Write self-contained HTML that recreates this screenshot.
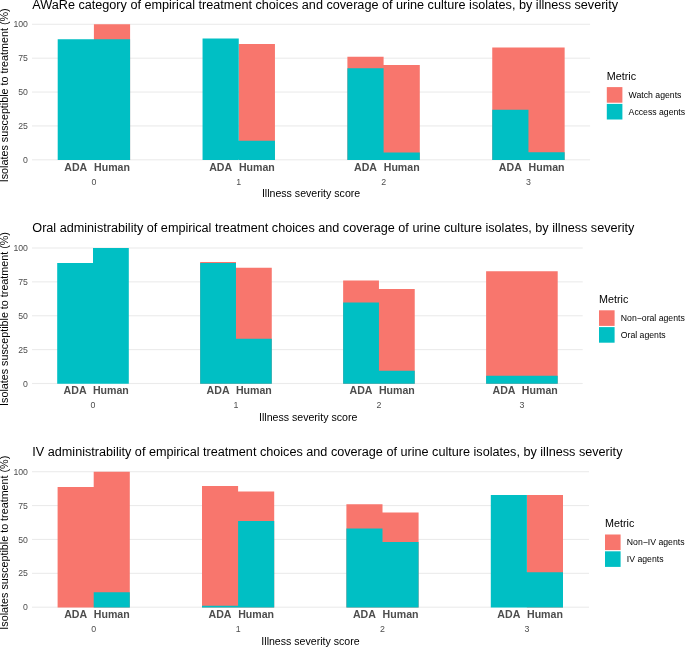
<!DOCTYPE html>
<html><head><meta charset="utf-8"><style>
html,body{margin:0;padding:0;background:#fff;width:685px;height:647px;overflow:hidden}
svg{display:block;will-change:transform}
text{font-family:"Liberation Sans", sans-serif}
</style></head><body>
<svg width="685" height="647" viewBox="0 0 685 647">
<rect width="685" height="647" fill="#fff"/>
<text x="32.3" y="8.70" font-size="12.65" fill="#000">AWaRe category of empirical treatment choices and coverage of urine culture isolates, by illness severity</text>
<text transform="translate(8.1,95.30) rotate(-90)" text-anchor="middle" font-size="10.75" fill="#000">Isolates susceptible to treatment (%)</text>
<rect x="32.0" y="159.25" width="558.10" height="1.1" fill="#EBEBEB"/>
<text x="27.9" y="162.95" text-anchor="end" font-size="8.7" fill="#4D4D4D">0</text>
<rect x="32.0" y="125.38" width="558.10" height="1.1" fill="#EBEBEB"/>
<text x="27.9" y="129.08" text-anchor="end" font-size="8.7" fill="#4D4D4D">25</text>
<rect x="32.0" y="91.50" width="558.10" height="1.1" fill="#EBEBEB"/>
<text x="27.9" y="95.20" text-anchor="end" font-size="8.7" fill="#4D4D4D">50</text>
<rect x="32.0" y="57.63" width="558.10" height="1.1" fill="#EBEBEB"/>
<text x="27.9" y="61.33" text-anchor="end" font-size="8.7" fill="#4D4D4D">75</text>
<rect x="32.0" y="23.75" width="558.10" height="1.1" fill="#EBEBEB"/>
<text x="27.9" y="27.45" text-anchor="end" font-size="8.7" fill="#4D4D4D">100</text>
<path d="M93.90 24.30H130.10V160.00H93.90Z" fill="#F8766D"/>
<path d="M57.70 39.34H93.90V160.00H57.70ZM93.90 39.34H130.10V160.00H93.90Z" fill="#00BFC4"/>
<text x="75.80" y="170.80" text-anchor="middle" font-size="10.6" font-weight="bold" fill="#4D4D4D">ADA</text>
<text x="112.00" y="170.80" text-anchor="middle" font-size="10.6" font-weight="bold" fill="#4D4D4D">Human</text>
<text x="93.90" y="185.00" text-anchor="middle" font-size="8.8" fill="#4D4D4D">0</text>
<path d="M238.75 44.08H274.95V160.00H238.75Z" fill="#F8766D"/>
<path d="M202.55 38.53H238.75V160.00H202.55ZM238.75 140.83H274.95V160.00H238.75Z" fill="#00BFC4"/>
<text x="220.65" y="170.80" text-anchor="middle" font-size="10.6" font-weight="bold" fill="#4D4D4D">ADA</text>
<text x="256.85" y="170.80" text-anchor="middle" font-size="10.6" font-weight="bold" fill="#4D4D4D">Human</text>
<text x="238.75" y="185.00" text-anchor="middle" font-size="8.8" fill="#4D4D4D">1</text>
<path d="M347.40 56.82H383.60V160.00H347.40ZM383.60 65.09H419.80V160.00H383.60Z" fill="#F8766D"/>
<path d="M347.40 68.34H383.60V160.00H347.40ZM383.60 152.62H419.80V160.00H383.60Z" fill="#00BFC4"/>
<text x="365.50" y="170.80" text-anchor="middle" font-size="10.6" font-weight="bold" fill="#4D4D4D">ADA</text>
<text x="401.70" y="170.80" text-anchor="middle" font-size="10.6" font-weight="bold" fill="#4D4D4D">Human</text>
<text x="383.60" y="185.00" text-anchor="middle" font-size="8.8" fill="#4D4D4D">2</text>
<path d="M492.25 47.61H528.45V160.00H492.25ZM528.45 47.61H564.65V160.00H528.45Z" fill="#F8766D"/>
<path d="M492.25 109.67H528.45V160.00H492.25ZM528.45 152.21H564.65V160.00H528.45Z" fill="#00BFC4"/>
<text x="510.35" y="170.80" text-anchor="middle" font-size="10.6" font-weight="bold" fill="#4D4D4D">ADA</text>
<text x="546.55" y="170.80" text-anchor="middle" font-size="10.6" font-weight="bold" fill="#4D4D4D">Human</text>
<text x="528.45" y="185.00" text-anchor="middle" font-size="8.8" fill="#4D4D4D">3</text>
<text x="311.05" y="197.10" text-anchor="middle" font-size="10.6" fill="#000">Illness severity score</text>
<text x="606.80" y="79.90" font-size="10.75" fill="#000">Metric</text>
<rect x="606.80" y="87.10" width="15.6" height="15.6" fill="#F8766D"/>
<rect x="606.80" y="103.90" width="15.6" height="15.6" fill="#00BFC4"/>
<text x="628.60" y="98.05" font-size="8.7" fill="#000">Watch agents</text>
<text x="628.60" y="114.85" font-size="8.7" fill="#000">Access agents</text>
<text x="32.3" y="232.00" font-size="12.65" fill="#000">Oral administrability of empirical treatment choices and coverage of urine culture isolates, by illness severity</text>
<text transform="translate(8.1,319.00) rotate(-90)" text-anchor="middle" font-size="10.75" fill="#000">Isolates susceptible to treatment (%)</text>
<rect x="32.0" y="382.95" width="550.70" height="1.1" fill="#EBEBEB"/>
<text x="27.9" y="386.65" text-anchor="end" font-size="8.7" fill="#4D4D4D">0</text>
<rect x="32.0" y="349.07" width="550.70" height="1.1" fill="#EBEBEB"/>
<text x="27.9" y="352.77" text-anchor="end" font-size="8.7" fill="#4D4D4D">25</text>
<rect x="32.0" y="315.20" width="550.70" height="1.1" fill="#EBEBEB"/>
<text x="27.9" y="318.90" text-anchor="end" font-size="8.7" fill="#4D4D4D">50</text>
<rect x="32.0" y="281.32" width="550.70" height="1.1" fill="#EBEBEB"/>
<text x="27.9" y="285.02" text-anchor="end" font-size="8.7" fill="#4D4D4D">75</text>
<rect x="32.0" y="247.45" width="550.70" height="1.1" fill="#EBEBEB"/>
<text x="27.9" y="251.15" text-anchor="end" font-size="8.7" fill="#4D4D4D">100</text>
<path d="M57.20 263.04H93.00V383.70H57.20ZM93.00 248.00H128.80V383.70H93.00Z" fill="#00BFC4"/>
<text x="75.10" y="393.70" text-anchor="middle" font-size="10.6" font-weight="bold" fill="#4D4D4D">ADA</text>
<text x="110.90" y="393.70" text-anchor="middle" font-size="10.6" font-weight="bold" fill="#4D4D4D">Human</text>
<text x="93.00" y="407.90" text-anchor="middle" font-size="8.8" fill="#4D4D4D">0</text>
<path d="M200.17 261.96H235.97V383.70H200.17ZM235.97 267.78H271.77V383.70H235.97Z" fill="#F8766D"/>
<path d="M200.17 262.90H235.97V383.70H200.17ZM235.97 338.79H271.77V383.70H235.97Z" fill="#00BFC4"/>
<text x="218.07" y="393.70" text-anchor="middle" font-size="10.6" font-weight="bold" fill="#4D4D4D">ADA</text>
<text x="253.87" y="393.70" text-anchor="middle" font-size="10.6" font-weight="bold" fill="#4D4D4D">Human</text>
<text x="235.97" y="407.90" text-anchor="middle" font-size="8.8" fill="#4D4D4D">1</text>
<path d="M343.14 280.38H378.94V383.70H343.14ZM378.94 288.92H414.74V383.70H378.94Z" fill="#F8766D"/>
<path d="M343.14 302.47H378.94V383.70H343.14ZM378.94 370.76H414.74V383.70H378.94Z" fill="#00BFC4"/>
<text x="361.04" y="393.70" text-anchor="middle" font-size="10.6" font-weight="bold" fill="#4D4D4D">ADA</text>
<text x="396.84" y="393.70" text-anchor="middle" font-size="10.6" font-weight="bold" fill="#4D4D4D">Human</text>
<text x="378.94" y="407.90" text-anchor="middle" font-size="8.8" fill="#4D4D4D">2</text>
<path d="M486.11 271.31H521.91V383.70H486.11ZM521.91 271.31H557.71V383.70H521.91Z" fill="#F8766D"/>
<path d="M486.11 375.78H521.91V383.70H486.11ZM521.91 375.78H557.71V383.70H521.91Z" fill="#00BFC4"/>
<text x="504.01" y="393.70" text-anchor="middle" font-size="10.6" font-weight="bold" fill="#4D4D4D">ADA</text>
<text x="539.81" y="393.70" text-anchor="middle" font-size="10.6" font-weight="bold" fill="#4D4D4D">Human</text>
<text x="521.91" y="407.90" text-anchor="middle" font-size="8.8" fill="#4D4D4D">3</text>
<text x="308.15" y="421.20" text-anchor="middle" font-size="10.6" fill="#000">Illness severity score</text>
<text x="599.00" y="303.10" font-size="10.75" fill="#000">Metric</text>
<rect x="599.00" y="310.30" width="15.6" height="15.6" fill="#F8766D"/>
<rect x="599.00" y="327.10" width="15.6" height="15.6" fill="#00BFC4"/>
<text x="620.80" y="321.25" font-size="8.7" fill="#000">Non−oral agents</text>
<text x="620.80" y="338.05" font-size="8.7" fill="#000">Oral agents</text>
<text x="32.3" y="456.10" font-size="12.65" fill="#000">IV administrability of empirical treatment choices and coverage of urine culture isolates, by illness severity</text>
<text transform="translate(8.1,542.70) rotate(-90)" text-anchor="middle" font-size="10.75" fill="#000">Isolates susceptible to treatment (%)</text>
<rect x="32.0" y="606.65" width="557.00" height="1.1" fill="#EBEBEB"/>
<text x="27.9" y="610.35" text-anchor="end" font-size="8.7" fill="#4D4D4D">0</text>
<rect x="32.0" y="572.78" width="557.00" height="1.1" fill="#EBEBEB"/>
<text x="27.9" y="576.48" text-anchor="end" font-size="8.7" fill="#4D4D4D">25</text>
<rect x="32.0" y="538.90" width="557.00" height="1.1" fill="#EBEBEB"/>
<text x="27.9" y="542.60" text-anchor="end" font-size="8.7" fill="#4D4D4D">50</text>
<rect x="32.0" y="505.03" width="557.00" height="1.1" fill="#EBEBEB"/>
<text x="27.9" y="508.73" text-anchor="end" font-size="8.7" fill="#4D4D4D">75</text>
<rect x="32.0" y="471.15" width="557.00" height="1.1" fill="#EBEBEB"/>
<text x="27.9" y="474.85" text-anchor="end" font-size="8.7" fill="#4D4D4D">100</text>
<path d="M57.60 486.88H93.70V607.40H57.60ZM93.70 471.70H129.80V607.40H93.70Z" fill="#F8766D"/>
<path d="M93.70 592.16H129.80V607.40H93.70Z" fill="#00BFC4"/>
<text x="75.65" y="618.20" text-anchor="middle" font-size="10.6" font-weight="bold" fill="#4D4D4D">ADA</text>
<text x="111.75" y="618.20" text-anchor="middle" font-size="10.6" font-weight="bold" fill="#4D4D4D">Human</text>
<text x="93.70" y="632.40" text-anchor="middle" font-size="8.8" fill="#4D4D4D">0</text>
<path d="M202.00 485.93H238.10V607.40H202.00ZM238.10 491.62H274.20V607.40H238.10Z" fill="#F8766D"/>
<path d="M202.00 605.85H238.10V607.40H202.00ZM238.10 520.89H274.20V607.40H238.10Z" fill="#00BFC4"/>
<text x="220.05" y="618.20" text-anchor="middle" font-size="10.6" font-weight="bold" fill="#4D4D4D">ADA</text>
<text x="256.15" y="618.20" text-anchor="middle" font-size="10.6" font-weight="bold" fill="#4D4D4D">Human</text>
<text x="238.10" y="632.40" text-anchor="middle" font-size="8.8" fill="#4D4D4D">1</text>
<path d="M346.40 504.22H382.50V607.40H346.40ZM382.50 512.62H418.60V607.40H382.50Z" fill="#F8766D"/>
<path d="M346.40 528.47H382.50V607.40H346.40ZM382.50 541.89H418.60V607.40H382.50Z" fill="#00BFC4"/>
<text x="364.45" y="618.20" text-anchor="middle" font-size="10.6" font-weight="bold" fill="#4D4D4D">ADA</text>
<text x="400.55" y="618.20" text-anchor="middle" font-size="10.6" font-weight="bold" fill="#4D4D4D">Human</text>
<text x="382.50" y="632.40" text-anchor="middle" font-size="8.8" fill="#4D4D4D">2</text>
<path d="M526.90 495.01H563.00V607.40H526.90Z" fill="#F8766D"/>
<path d="M490.80 495.01H526.90V607.40H490.80ZM526.90 572.24H563.00V607.40H526.90Z" fill="#00BFC4"/>
<text x="508.85" y="618.20" text-anchor="middle" font-size="10.6" font-weight="bold" fill="#4D4D4D">ADA</text>
<text x="544.95" y="618.20" text-anchor="middle" font-size="10.6" font-weight="bold" fill="#4D4D4D">Human</text>
<text x="526.90" y="632.40" text-anchor="middle" font-size="8.8" fill="#4D4D4D">3</text>
<text x="310.50" y="644.50" text-anchor="middle" font-size="10.6" fill="#000">Illness severity score</text>
<text x="605.00" y="527.30" font-size="10.75" fill="#000">Metric</text>
<rect x="605.00" y="534.50" width="15.6" height="15.6" fill="#F8766D"/>
<rect x="605.00" y="551.30" width="15.6" height="15.6" fill="#00BFC4"/>
<text x="626.80" y="545.45" font-size="8.7" fill="#000">Non−IV agents</text>
<text x="626.80" y="562.25" font-size="8.7" fill="#000">IV agents</text>
</svg>
</body></html>
